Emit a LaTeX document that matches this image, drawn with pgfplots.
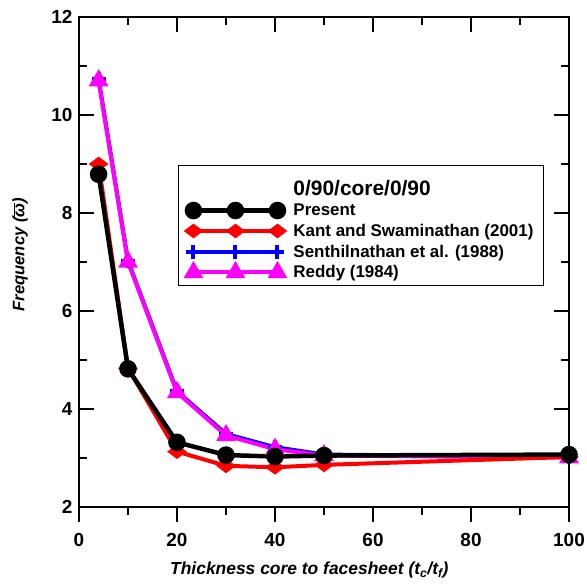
\documentclass[border=0pt]{standalone}
\usepackage{fontspec}
\setmainfont{Liberation Sans}
\usepackage{pgfplots}
\pgfplotsset{compat=1.18}
\definecolor{mag}{RGB}{255,0,255}
\definecolor{pblue}{RGB}{0,0,255}
\definecolor{pred}{RGB}{255,0,0}
\pgfplotsset{
 presentstyle/.style={black, line width=4.5bp, mark=*, mark size=6.5bp, mark options={solid}},
 kantstyle/.style={pred, line width=4bp, mark=diamond*, mark size=6.5bp, mark options={solid,rotate=90}},
 senstyle/.style={pblue, line width=4bp, mark=+, mark size=7bp, mark options={solid,line width=4bp}},
 reddystyle/.style={mag, line width=4bp, mark=triangle*, mark size=7.5bp, mark options={solid}},
 common/.style={
  at={(0,0)}, anchor=south west, scale only axis, width=490bp, height=490bp,
  xmin=0, xmax=100, ymin=2, ymax=12,
  xtick={0,20,...,100}, minor xtick={10,30,...,90},
  ytick={2,4,...,12}, minor ytick={3,5,...,11},
  major tick length=15bp, minor tick length=8bp,
  tick style={black, line width=2.5bp},
  axis line style={line width=2.5bp},
  /pgf/number format/assume math mode=true,
  ticklabel style={font=\bfseries\fontsize{19}{19}\selectfont},
 },
}
\begin{document}
\begin{tikzpicture}
\begin{axis}[common, name=main,
  tick align=inside, xtick pos=right, ytick pos=both, xticklabels={},
  yticklabel style={xshift=-3bp},
  every axis y label/.style={at={(axis description cs:-0.1204,0.515)}, rotate=90, anchor=center},
  ylabel={\bfseries\itshape\fontsize{16.7}{16.7}\selectfont Frequency (\(\overline{\hbox{ω}}\))},
  legend style={at={(rel axis cs:0.202,0.698)}, anchor=north west, draw=black, line width=1bp,
    font=\bfseries\fontsize{17}{17}\selectfont, inner xsep=8bp, inner ysep=4bp,
    row sep=3bp, column sep=7bp, cells={anchor=west}},
  legend cell align=left,
  legend image code/.code={\draw[#1] plot coordinates {(0bp,0bp) (42bp,0bp) (84bp,0bp)};},
]
\addplot[senstyle, forget plot] coordinates {(4,10.73) (10,7.02) (20,4.36) (30,3.49) (40,3.22) (50,3.07) (100,3.02)};
\addplot[reddystyle, forget plot] coordinates {(4,10.70) (10,7.00) (20,4.34) (30,3.46) (40,3.18) (50,3.05) (100,3.01)};
\addplot[kantstyle, forget plot] coordinates {(4,9.00) (10,4.83) (20,3.13) (30,2.84) (40,2.81) (50,2.86) (100,3.02)};
\addplot[presentstyle, forget plot] coordinates {(4,8.79) (10,4.82) (20,3.32) (30,3.06) (40,3.03) (50,3.05) (100,3.07)};
\addlegendimage{empty legend}
\addlegendentry{\fontsize{21}{21}\selectfont\rule[-3bp]{0pt}{27bp}0/90/core/0/90}
\addlegendimage{presentstyle}
\addlegendentry{Present}
\addlegendimage{kantstyle}
\addlegendentry{Kant and Swaminathan (2001)}
\addlegendimage{senstyle}
\addlegendentry{Senthilnathan et al. (1988)}
\addlegendimage{reddystyle}
\addlegendentry{Reddy (1984)}
\end{axis}
\begin{axis}[common,
  tick align=outside, xtick pos=left, ytick=\empty,
  xticklabel style={yshift=-8bp},
  every axis x label/.style={at={(axis description cs:0.47,-0.1286)}, anchor=center},
  xlabel={\bfseries\itshape\fontsize{17.5}{17.5}\selectfont Thickness core to facesheet (t\textsubscript{c}/t\textsubscript{f})},
]
\end{axis}
\pgfresetboundingbox
\path[use as bounding box] (-79bp,-77bp) rectangle (508bp,507bp);
\end{tikzpicture}
\end{document}
